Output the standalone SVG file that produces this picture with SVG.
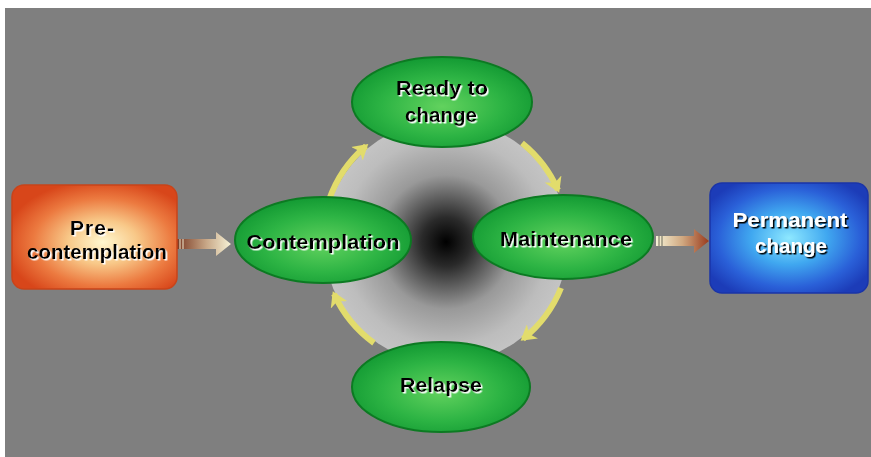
<svg xmlns="http://www.w3.org/2000/svg" width="871" height="457" viewBox="0 0 871 457">
<defs>
<style>
.lbl{font-family:"Liberation Sans",Arial,sans-serif;font-weight:bold;font-size:21px;text-anchor:middle;fill:#000;filter:url(#wsh)}
.wlbl{font-family:"Liberation Sans",Arial,sans-serif;font-weight:bold;font-size:21px;text-anchor:middle;fill:#fff;filter:url(#ksh)}
.oval{fill:url(#gGreen);stroke:#0c7a22;stroke-width:2}
.cyc{fill:none;stroke:#e2dc6c;stroke-width:6;marker-end:url(#yh)}
</style>
<filter id="wsh" x="-10%" y="-20%" width="120%" height="150%"><feDropShadow dx="1.5" dy="1.5" stdDeviation="0" flood-color="#ffffff"/></filter>
<filter id="ksh" x="-10%" y="-20%" width="120%" height="150%"><feDropShadow dx="1.5" dy="1.5" stdDeviation="0" flood-color="#000000"/></filter>
<radialGradient id="gDisk" cx="0.5" cy="0.5" r="0.5">
<stop offset="0" stop-color="#000"/>
<stop offset="0.2" stop-color="#2a2a2a"/>
<stop offset="0.55" stop-color="#999"/>
<stop offset="0.85" stop-color="#bdbdbd"/>
<stop offset="1" stop-color="#c4c4c4"/>
</radialGradient>
<radialGradient id="gGreen" cx="0.5" cy="0.55" r="0.55">
<stop offset="0" stop-color="#62d25e"/>
<stop offset="0.6" stop-color="#2db444"/>
<stop offset="1" stop-color="#139a33"/>
</radialGradient>
<radialGradient id="gOrange" cx="0.55" cy="0.55" r="0.6">
<stop offset="0" stop-color="#fff8d0"/>
<stop offset="0.35" stop-color="#f8c888"/>
<stop offset="0.7" stop-color="#ec7a40"/>
<stop offset="1" stop-color="#d8461a"/>
</radialGradient>
<radialGradient id="gBlue" cx="0.5" cy="0.5" r="0.6">
<stop offset="0" stop-color="#8ee8ff"/>
<stop offset="0.4" stop-color="#40a8f0"/>
<stop offset="0.75" stop-color="#2a60d8"/>
<stop offset="1" stop-color="#1c3cb8"/>
</radialGradient>
<linearGradient id="gArrL" x1="0" y1="0" x2="1" y2="0">
<stop offset="0" stop-color="#7a3a24"/>
<stop offset="0.55" stop-color="#c8a888"/>
<stop offset="1" stop-color="#f6f2d6"/>
</linearGradient>
<linearGradient id="gArrR" x1="0" y1="0" x2="1" y2="0">
<stop offset="0" stop-color="#f6f2d6"/>
<stop offset="0.5" stop-color="#d0a880"/>
<stop offset="1" stop-color="#9a3a1c"/>
</linearGradient>
<marker id="yh" markerWidth="15" markerHeight="18" refX="12" refY="9" orient="auto" markerUnits="userSpaceOnUse">
<path d="M0,0 L15,9 L0,18 L4,9 Z" fill="#e2dc6c"/>
</marker>
</defs>

<rect x="5" y="8" width="866" height="449" fill="#7f7f7f"/>
<circle cx="446" cy="242" r="122" fill="url(#gDisk)"/>

<g id="connectors">
<path class="cyc" d="M329,200 A124,124 0 0 1 366,146"/>
<path class="cyc" d="M522,143 A124,124 0 0 1 558,190"/>
<path class="cyc" d="M561,288 A124,124 0 0 1 523,339"/>
<path class="cyc" d="M374,343 A124,124 0 0 1 334,294"/>
<g id="arrow-pre">
<path d="M177,239 H216 V232 L231,244 L216,256 V249 H177 Z" fill="url(#gArrL)"/>
<path d="M180,239 V249 M183,239 V249" stroke="#f0ead0" stroke-width="1"/>
</g>
<g id="arrow-perm">
<path d="M656,236 H694 V229 L709,241 L694,253 V246 H656 Z" fill="url(#gArrR)"/>
<path d="M659,236 V246 M662,236 V246" stroke="#6a6a5a" stroke-width="1"/>
</g>
</g>

<g id="precontemplation">
<rect x="12" y="185" width="165" height="104" rx="12" fill="url(#gOrange)" stroke="#c8441a" stroke-width="1.5"/>
<text class="lbl" x="92" y="235" textLength="44">Pre-</text>
<text class="lbl" x="97" y="259" textLength="140" lengthAdjust="spacingAndGlyphs">contemplation</text>
</g>

<g id="ready">
<ellipse class="oval" cx="442" cy="102" rx="90" ry="45"/>
<text class="lbl" x="442" y="95" textLength="92" lengthAdjust="spacingAndGlyphs">Ready to</text>
<text class="lbl" x="441" y="122" textLength="72" lengthAdjust="spacingAndGlyphs">change</text>
</g>

<g id="contemplation">
<ellipse class="oval" cx="323" cy="240" rx="88" ry="43"/>
<text class="lbl" x="323" y="249" textLength="153" lengthAdjust="spacingAndGlyphs">Contemplation</text>
</g>

<g id="maintenance">
<ellipse class="oval" cx="563" cy="237" rx="90" ry="42"/>
<text class="lbl" x="566" y="246" textLength="132" lengthAdjust="spacingAndGlyphs">Maintenance</text>
</g>

<g id="relapse">
<ellipse class="oval" cx="441" cy="387" rx="89" ry="45"/>
<text class="lbl" x="441" y="392" textLength="82" lengthAdjust="spacingAndGlyphs">Relapse</text>
</g>

<g id="permanent">
<rect x="710" y="183" width="158" height="110" rx="12" fill="url(#gBlue)" stroke="#1a34a8" stroke-width="1.5"/>
<text class="wlbl" x="790" y="227" textLength="115" lengthAdjust="spacingAndGlyphs">Permanent</text>
<text class="wlbl" x="791" y="253" textLength="72" lengthAdjust="spacingAndGlyphs">change</text>
</g>
</svg>
